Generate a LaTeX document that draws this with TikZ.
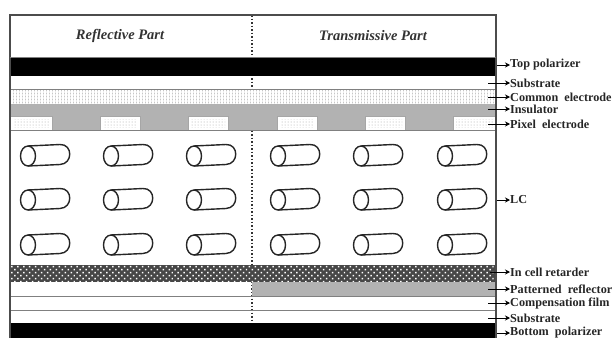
\documentclass[tikz,border=0pt]{standalone}
\usepackage{fontspec}
\setmainfont{Liberation Serif}
\usetikzlibrary{patterns.meta,arrows.meta}
\tikzset{
    part/.style={font=\fontsize{14.5}{15}\selectfont\bfseries\itshape, text=black!80},
    tag/.style={anchor=west, inner sep=0pt, font=\fontsize{12.2}{13}\selectfont\bfseries, text=black!85},
    band/.style={draw=black!50, line width=1pt},
    pointer/.style={-{Stealth[length=5pt,width=5pt]}, line width=1pt, black},
    lc/.pic={
        \draw[line width=1.4pt, black!85, fill=white] (0,-10) -- (32,-11.5) .. controls (45,-12) and (45,8) .. (32,8.5) -- (0,10);
        \draw[line width=1.4pt, black!85, fill=white] (0,0) ellipse (7.5 and 10);
    }
}
\begin{document}
\begin{tikzpicture}[x=1pt,y=-1pt]
    \useasboundingbox (0,0) rectangle (613,338);
    % Dotted line between the two parts
    \draw[black!80, line width=1.5pt, dash pattern=on 1.5pt off 2pt] (252,15) -- (252,323);

    % Layers of the stack
    \fill[black] (10,57) rectangle (496,76);
    \fill[gray!45] (10,89) rectangle (496,104);
    \fill[pattern={Lines[angle=0,distance=3pt,line width=1.2pt]}, pattern color=white] (10,89) rectangle (496,104);
    \fill[pattern={Lines[angle=90,distance=3pt,line width=1.2pt]}, pattern color=white] (10,89) rectangle (496,104);
    \draw[band] (10,89) -- (496,89);
    \draw[band] (10,104) -- (496,104);
    \fill[gray!60] (10,104) rectangle (496,130);
    \draw[band] (10,130) -- (496,130);

    % Pixel electrodes
    \foreach \xa/\xb in {10/52, 100/140, 188/228, 277/317, 365/405, 453/496}{
        \fill[white] (\xa,116) rectangle (\xb,130);
        \fill[pattern={Dots[distance=3pt,radius=0.5pt]}, pattern color=gray!70] (\xa+3,119) rectangle (\xb-3,127);
        \draw[black!35, line width=0.8pt] (\xa,130) -- (\xa,116) -- (\xb,116) -- (\xb,130);
    }

    % LC molecules
    \foreach \yy in {156,200,245}{
        \foreach \xx in {28,111,194,278,361,445}{
            \pic at (\xx,\yy) {lc};
        }
    }

    % Retarder and reflector
    \fill[black!72] (10,265) rectangle (496,282);
    \fill[pattern={Dots[angle=45,distance=4.2pt,radius=1.05pt]}, pattern color=white] (10,265) rectangle (496,282);
    \fill[gray!60] (252,282) rectangle (496,296);
    \draw[band] (10,296) -- (496,296);
    \draw[band] (10,310) -- (496,310);
    \fill[black] (10,323) rectangle (496,338);

    % Frame
    \draw[black!70, line width=1.5pt] (10,338) -- (10,15) -- (496,15) -- (496,338);
    \draw[band] (10,57) -- (496,57);

    % Titles
    \node[part] (reflective) at (120,36) {Reflective Part};
    \node[part] (transmissive) at (373,36) {Transmissive Part};

    % Labels with their arrows
    \foreach \name/\yy/\xs/\txt in {
        top/65/497/Top polarizer,
        sub/83/488/Substrate,
        com/97/488/Common\ \ electrode,
        ins/109/488/Insulator,
        pix/124/488/Pixel\ \ electrode,
        lcl/200/497/LC,
        ret/272/490/In cell retarder,
        ref/289/488/Patterned\ \ reflector,
        cmp/303/488/Compensation film,
        sbb/318/488/Substrate,
        bot/333/497/Bottom\ \ polarizer}{
        \node[tag] (\name) at (510,\yy) {\txt};
        \coordinate (\name s) at (\xs,\yy);
        \draw[pointer] (\name s) -- (\name);
    }
\end{tikzpicture}
\end{document}
